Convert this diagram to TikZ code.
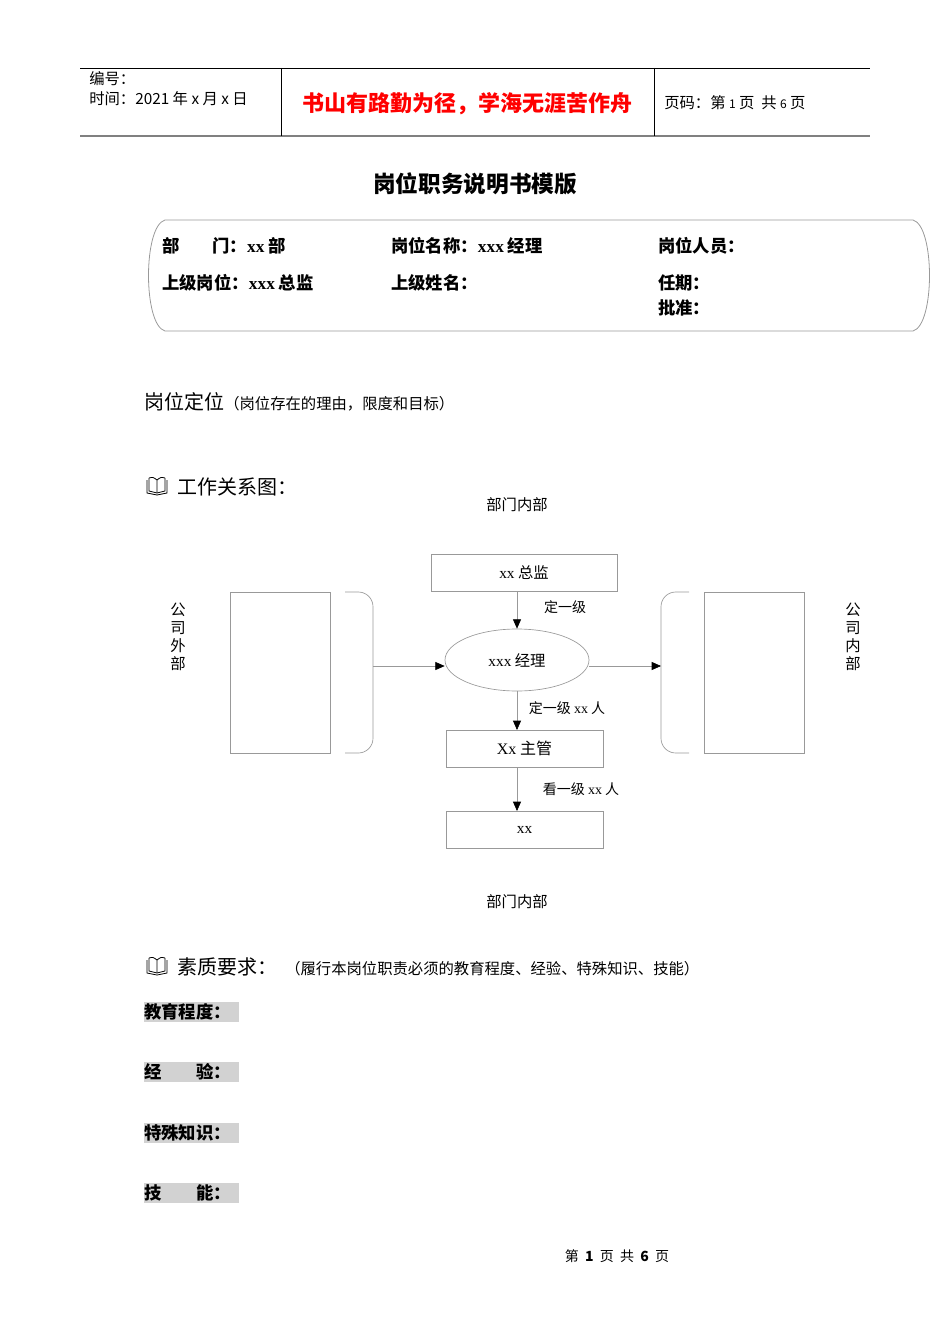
\documentclass[tikz,border=0pt]{standalone}
\usepackage{fontspec}
\setmainfont{Noto Sans CJK SC}
\newfontfamily\lat{Liberation Serif}
\usetikzlibrary{shapes.geometric,arrows.meta}
\definecolor{ln}{gray}{0.6}
\newcommand{\fs}[1]{\fontsize{#1}{#1}\selectfont}
\tikzset{
 bx/.style={draw=ln,line width=0.5pt,minimum width=#1,inner sep=0pt},
 bx/.default=140pt,
 arr/.style={draw=ln,line width=0.5pt,-{Triangle[length=7pt,width=6pt,color=black]}},
 lbl/.style={font=\fs{10.5pt},anchor=center},
 fld/.style={font=\fs{13pt}\bfseries,anchor=west,inner sep=0pt},
 brk/.style={draw=ln,line width=0.5pt,rounded corners=11pt},
}
\newcommand{\book}[2]{%
 \draw[line width=0.6pt] (#1-10,#2-7) -- (#1-10,#2+6) -- (#1,#2+8) -- (#1+10,#2+6) -- (#1+10,#2-7);
 \draw[line width=0.6pt] (#1-8,#2-9) -- (#1-8,#2+4) -- (#1,#2+6) -- (#1+8,#2+4) -- (#1+8,#2-9);
 \draw[line width=0.6pt] (#1-8,#2-9) .. controls (#1-4,#2-10) .. (#1,#2-7) -- (#1,#2+6);
 \draw[line width=0.6pt] (#1+8,#2-9) .. controls (#1+4,#2-10) .. (#1,#2-7);
}
\begin{document}
\begin{tikzpicture}[x=0.75pt,y=-0.75pt]
\useasboundingbox (0,0) rectangle (950,1344);
% header
\draw[line width=0.6pt] (80,68) -- (870,68);
\draw[line width=1.2pt,gray] (80,136) -- (870,136);
\draw[line width=0.6pt] (281,68) -- (281,136) (654,68) -- (654,136);
\node[anchor=west,inner sep=0pt,font=\fs{11.5pt}] (bh) at (89,79) {编号：};
\node[anchor=west,inner sep=0pt,font=\fs{11.5pt}] (sj) at (89,99) {时间：2021 年 x 月 x 日};
\node[inner sep=0pt,font=\fs{16.5pt}\bfseries,text=red] (motto) at (467,104) {书山有路勤为径，学海无涯苦作舟};
\node[anchor=west,inner sep=0pt,font=\fs{11.5pt}] (ym) at (664,103) {页码：第 {\fs{9pt}1} 页 \ 共 {\fs{9pt}6} 页};
\node[inner sep=0pt,font=\fs{17pt}\bfseries] (title) at (475,184) {岗位职务说明书模版};
% info box
\draw[ln,line width=0.6pt] (165,220) -- (913,220) .. controls (935,226) and (935,325) .. (913,331) -- (165,331) .. controls (143,325) and (143,226) .. (165,220);
\node[fld] (a1) at (162,246) {部\hspace{1.9em}门：{\lat xx} 部};
\node[fld] (a2) at (391,246) {岗位名称：{\lat xxx} 经理};
\node[fld] (a3) at (658,246) {岗位人员：};
\node[fld] (b1) at (162,283) {上级岗位：{\lat xxx} 总监};
\node[fld] (b2) at (391,283) {上级姓名：};
\node[fld] (b3) at (658,283) {任期：};
\node[fld] (c3) at (658,308) {批准：};
% sections
\node[anchor=west,inner sep=0pt] (dw) at (144,402) {{\fs{15pt}岗位定位}{\fs{11.5pt}（岗位存在的理由，限度和目标）}};
\book{157}{487}
\node[anchor=west,inner sep=0pt,font=\fs{15pt}] (gz) at (177,487) {工作关系图：};
\node[lbl,font=\fs{11.5pt}] (nb1) at (517,505) {部门内部};
\node[lbl,font=\fs{11.5pt}] (nb2) at (517,902) {部门内部};
% diagram
\node[bx=186*0.75pt,minimum height=37*0.75pt,font=\fs{11.5pt}] (zj) at (524,572.5) {{\lat xx} 总监};
\node[ellipse,draw=ln,line width=0.5pt,minimum width=144*0.75pt,minimum height=62*0.75pt,inner sep=0pt,font=\fs{11.5pt}] (jl) at (517,660) {{\lat xxx} 经理};
\node[bx=157*0.75pt,minimum height=37*0.75pt,font=\fs{12pt}] (zg) at (524.5,748.5) {{\lat Xx} 主管};
\node[bx=157*0.75pt,minimum height=37*0.75pt,font=\fs{11.5pt}] (xx) at (524.5,829.5) {{\lat xx}};
\node[draw=ln,line width=0.5pt,minimum width=100*0.75pt,minimum height=161*0.75pt,inner sep=0pt] (lr) at (280,672.5) {};
\node[draw=ln,line width=0.5pt,minimum width=100*0.75pt,minimum height=161*0.75pt,inner sep=0pt] (rr) at (754,672.5) {};
\draw[brk] (345,592) -- (373,592) -- (373,753) -- (345,753);
\draw[brk] (689,592) -- (661,592) -- (661,753) -- (689,753);
\coordinate (lb) at (373,666);
\coordinate (rb) at (661,666);
\draw[arr] (517,591) -- (jl.north);
\draw[arr] (jl.south) -- (517,730);
\draw[arr] (517,767) -- (517,811);
\draw[arr] (lb) -- (jl.west |- lb);
\draw[arr] (jl.east |- rb) -- (rb);
\node[lbl] (l1) at (565,607) {定一级};
\node[lbl] (l2) at (567,708) {定一级 {\lat xx} 人};
\node[lbl] (l3) at (581,789) {看一级 {\lat xx} 人};
\node[font=\fs{11.5pt},align=center,inner sep=0pt] (gw) at (178,637) {公\\[2pt]司\\[2pt]外\\[2pt]部};
\node[font=\fs{11.5pt},align=center,inner sep=0pt] (gn) at (853,637) {公\\[2pt]司\\[2pt]内\\[2pt]部};
% quality
\book{157}{967}
\node[anchor=west,inner sep=0pt] (sz) at (177,967) {{\fs{15pt}素质要求：}\hspace{0.6em}{\fs{11.5pt}（履行本岗位职责必须的教育程度、经验、特殊知识、技能）}};
\foreach \y/\t/\n in {1012/教育程度：/f1,1072/经\hspace{2em}验：/f2,1133/特殊知识：/f3,1193/技\hspace{2em}能：/f4}{
 \fill[gray!35] (144,\y-10) rectangle (239,\y+10);
 \node[fld] (\n) at (144,\y) {\t};
}
\node[font=\fs{10.5pt},inner sep=0pt] (ft) at (617,1256) {第 \ \textbf{1} \ 页 \ 共 \ \textbf{6} \ 页};
\end{tikzpicture}
\end{document}
